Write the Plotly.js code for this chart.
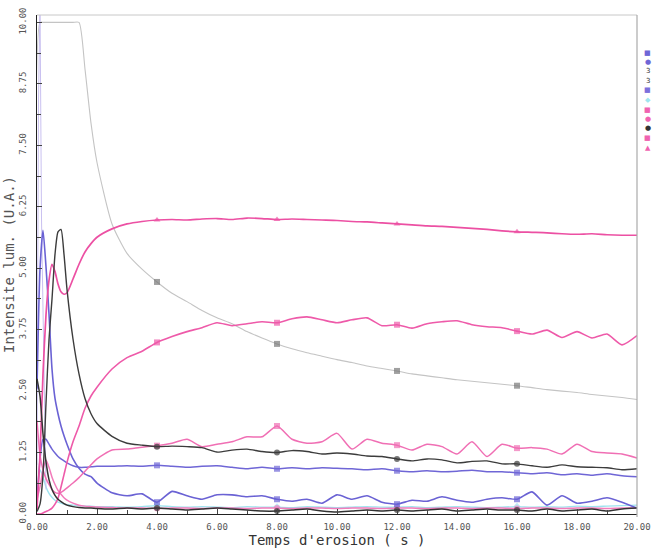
<!DOCTYPE html>
<html>
<head>
<meta charset="utf-8">
<script src="https://cdn.plot.ly/plotly-3.0.1.min.js"></script>
<style>html,body{margin:0;padding:0;background:#fff;}#chart{width:654px;height:553px;}</style>
</head>
<body>
<div id="chart"></div>
<script>
// Time grid (s)
const t = [0,0.1,0.2,0.3,0.4,0.5,0.6,0.7,0.8,0.9,1.0,1.2,1.4,1.6,1.8,2.0,
  2.5,3.0,3.5,4.0,4.5,5.0,5.5,6.0,6.5,7.0,7.5,8.0,8.5,9.0,9.5,10.0,
  10.5,11.0,11.5,12.0,12.5,13.0,13.5,14.0,14.5,15.0,15.5,16.0,16.5,17.0,17.5,18.0,18.5,19.0,19.5,20.0];

// Series values (U.A.)
const pinkTop = [0.1,1.2,2.85,4.05,4.75,5.08,4.93,4.68,4.52,4.47,4.5,4.78,5.08,5.33,5.5,5.63,
  5.8,5.9,5.95,5.98,5.99,5.98,6.0,6.01,5.99,6.02,6.01,5.99,6.0,5.99,5.98,5.97,
  5.95,5.94,5.92,5.9,5.88,5.86,5.85,5.83,5.81,5.79,5.76,5.74,5.73,5.72,5.7,5.69,5.7,5.68,5.67,5.67];
const pinkMid = [0,0,0.02,0.05,0.08,0.12,0.2,0.32,0.55,0.8,1.05,1.47,1.79,2.15,2.4,2.58,
  2.95,3.18,3.31,3.49,3.61,3.71,3.79,3.89,3.83,3.87,3.91,3.89,3.97,4.01,3.95,3.89,
  3.95,3.99,3.83,3.85,3.78,3.87,3.91,3.93,3.85,3.81,3.79,3.72,3.66,3.74,3.59,3.71,3.58,3.66,3.44,3.63];
const pinkLow = [1.9,1.2,0.9,0.72,0.6,0.5,0.44,0.42,0.44,0.48,0.53,0.63,0.74,0.87,1.0,1.12,
  1.3,1.32,1.36,1.39,1.44,1.52,1.37,1.42,1.47,1.57,1.57,1.79,1.52,1.44,1.47,1.64,
  1.32,1.52,1.44,1.4,1.3,1.42,1.37,1.22,1.47,1.17,1.42,1.34,1.35,1.32,1.22,1.42,1.27,1.24,1.22,1.14];
const blackPeak = [0.05,0.2,0.8,2.25,3.55,4.37,5.28,5.74,5.79,5.28,4.57,3.56,2.85,2.35,2.04,1.84,
  1.58,1.44,1.4,1.37,1.38,1.37,1.35,1.26,1.3,1.32,1.27,1.25,1.29,1.27,1.22,1.24,
  1.22,1.18,1.17,1.12,1.08,1.12,1.1,1.04,1.07,1.08,1.02,1.02,0.98,0.95,1.0,0.96,0.95,0.94,0.9,0.92];
const blackLow = [2.75,2.4,1.63,1.06,0.7,0.5,0.38,0.3,0.25,0.21,0.18,0.15,0.13,0.12,0.12,0.11,
  0.1,0.12,0.1,0.12,0.1,0.08,0.1,0.12,0.1,0.08,0.06,0.06,0.08,0.1,0.06,0.04,
  0.06,0.08,0.06,0.08,0.06,0.08,0.1,0.06,0.08,0.1,0.08,0.08,0.06,0.1,0.06,0.08,0.1,0.06,0.1,0.12];
const blueWavy = [2.55,4.98,5.77,5.03,4.07,2.95,2.35,2.04,1.79,1.59,1.42,1.12,0.93,0.81,0.76,0.63,
  0.43,0.37,0.41,0.24,0.46,0.37,0.3,0.39,0.39,0.35,0.37,0.3,0.26,0.3,0.22,0.39,
  0.3,0.37,0.24,0.2,0.28,0.26,0.35,0.28,0.24,0.3,0.33,0.3,0.45,0.18,0.37,0.22,0.26,0.33,0.24,0.12];
const blueFlat = [0.3,1.1,1.52,1.52,1.42,1.32,1.24,1.17,1.12,1.08,1.04,0.98,0.95,0.95,0.96,0.97,
  0.97,0.98,0.97,0.99,0.97,0.95,0.97,0.98,0.95,0.92,0.95,0.92,0.94,0.92,0.94,0.93,
  0.92,0.9,0.92,0.88,0.86,0.88,0.86,0.87,0.89,0.86,0.86,0.84,0.82,0.84,0.8,0.82,0.79,0.82,0.78,0.76];
const greyDecay = [0.3,10,10,10,10,10,10,10,10,10,10,10,10,9.05,7.95,7.15,
  5.9,5.3,4.98,4.72,4.49,4.32,4.14,3.99,3.87,3.71,3.58,3.46,3.36,3.28,3.21,3.14,
  3.08,3.01,2.96,2.91,2.85,2.81,2.77,2.73,2.7,2.67,2.64,2.61,2.57,2.53,2.5,2.47,2.43,2.4,2.37,2.33];
const cyanLow = [0.2,0.9,0.75,0.55,0.42,0.34,0.28,0.24,0.22,0.2,0.19,0.18,0.17,0.16,0.16,0.15,
  0.15,0.14,0.15,0.17,0.15,0.14,0.15,0.14,0.13,0.15,0.14,0.14,0.13,0.15,0.14,0.13,
  0.14,0.15,0.14,0.14,0.15,0.13,0.14,0.15,0.14,0.13,0.14,0.15,0.14,0.15,0.14,0.16,0.15,0.16,0.17,0.18];
const pinkBottom = [0.3,0.55,0.9,1.1,0.95,0.75,0.6,0.48,0.4,0.33,0.28,0.22,0.18,0.16,0.15,0.14,
  0.13,0.12,0.12,0.11,0.12,0.12,0.11,0.12,0.12,0.11,0.12,0.12,0.11,0.12,0.12,0.11,
  0.12,0.12,0.11,0.12,0.12,0.11,0.12,0.12,0.11,0.12,0.12,0.11,0.12,0.12,0.11,0.12,0.12,0.11,0.12,0.12];
const spikeT = [0,0.05,0.1,0.15,0.3];
const spikeV = [1.0,8.4,10.4,6.0,0.5];

// Tick / legend labels
const xTitle = "Temps d'erosion ( s )";
const yTitle = "Intensite lum. (U.A.)";
const legendGlyphs = ["■","●","3","3","■","◆","■","●","●","■","▲"];
const legendColors = ["#6f66d6","#6f66d6","#333","#333","#7d70dc","#9fe6ef","#f063b0","#f063b0","#333","#f063b0","#f063b0"];

const markAt = [4,8,12,16];
const msize = t.map(v => markAt.includes(v) ? 6 : 0);

function tr(y, color, sym, width, mcolor) {
  return {x: t, y: y, type: 'scatter', mode: 'lines+markers',
    line: {color: color, width: width || 1.6, shape: 'spline', smoothing: 0.6},
    marker: {symbol: sym, size: msize, color: mcolor || color, line: {width: 0}},
    hoverinfo: 'skip', showlegend: false, cliponaxis: true};
}

const data = [
  tr(greyDecay, '#c4c4c4', 'square', 1.1, '#777'),
  tr(cyanLow, '#9fe3ef', 'diamond', 1.4),
  tr(pinkBottom, '#f27cbb', 'circle', 1.5),
  {x: spikeT, y: spikeV, type: 'scatter', mode: 'lines', line: {color: '#c9c0f0', width: 1},
    hoverinfo: 'skip', showlegend: false},
  tr(blueFlat, '#6f66d6', 'square', 1.5),
  tr(blueWavy, '#6a62d4', 'square', 1.6),
  tr(pinkLow, '#f06fb4', 'square', 1.5),
  tr(pinkMid, '#ee5aa9', 'square', 1.6),
  tr(pinkTop, '#ec50a3', 'triangle-up', 1.7),
  tr(blackLow, '#333', 'circle', 1.5),
  tr(blackPeak, '#3c3c3c', 'circle', 1.4)
];

const annotations = legendGlyphs.map((g, i) => ({
  xref: 'paper', yref: 'paper', x: 1.018, xanchor: 'center',
  y: (514 - (52.5 + i * 9.5)) / 499, yanchor: 'middle',
  text: g, showarrow: false, borderpad: 0,
  font: {family: 'DejaVu Sans', size: 7, color: legendColors[i]}
}));

const layout = {
  width: 654, height: 553,
  margin: {l: 37, r: 17, t: 15, b: 39, pad: 0},
  paper_bgcolor: '#fff', plot_bgcolor: '#fff',
  showlegend: false,
  xaxis: {
    range: [0, 20], tick0: 0, dtick: 2, tickformat: '.2f',
    ticks: 'inside', ticklen: 5, tickcolor: '#444', tickwidth: 1,
    minor: {dtick: 1, ticks: 'inside', ticklen: 4, tickcolor: '#444', showgrid: false},
    showline: true, linecolor: '#222', linewidth: 1.2,
    showgrid: false, zeroline: false, automargin: false,
    ticklabelstandoff: 4,
    tickfont: {family: 'DejaVu Sans Mono', size: 9, color: '#555'},
    title: {text: xTitle, standoff: 3, font: {family: 'DejaVu Sans Mono', size: 14, color: '#333'}}
  },
  yaxis: {
    range: [0, 10.15], tick0: 0, dtick: 1.25, tickformat: '.2f', tickangle: -90,
    ticks: 'inside', ticklen: 5, tickcolor: '#444', tickwidth: 1,
    minor: {dtick: 0.625, ticks: 'inside', ticklen: 4, tickcolor: '#444', showgrid: false},
    showline: true, linecolor: '#222', linewidth: 1.2,
    showgrid: false, zeroline: false, automargin: false,
    ticklabelstandoff: 6,
    tickfont: {family: 'DejaVu Sans Mono', size: 9, color: '#555'},
    title: {text: yTitle, standoff: 0, font: {family: 'DejaVu Sans Mono', size: 14, color: '#555'}}
  },
  shapes: [
    {type: 'line', xref: 'paper', yref: 'paper', x0: 0, x1: 1, y0: 1, y1: 1, line: {color: '#c8c8c8', width: 1}},
    {type: 'line', xref: 'paper', yref: 'paper', x0: 1, x1: 1, y0: -0.006, y1: 1, line: {color: '#aaa', width: 1.2}}
  ],
  annotations: annotations
};

Plotly.newPlot('chart', data, layout, {staticPlot: true, displayModeBar: false});
</script>
</body>
</html>
